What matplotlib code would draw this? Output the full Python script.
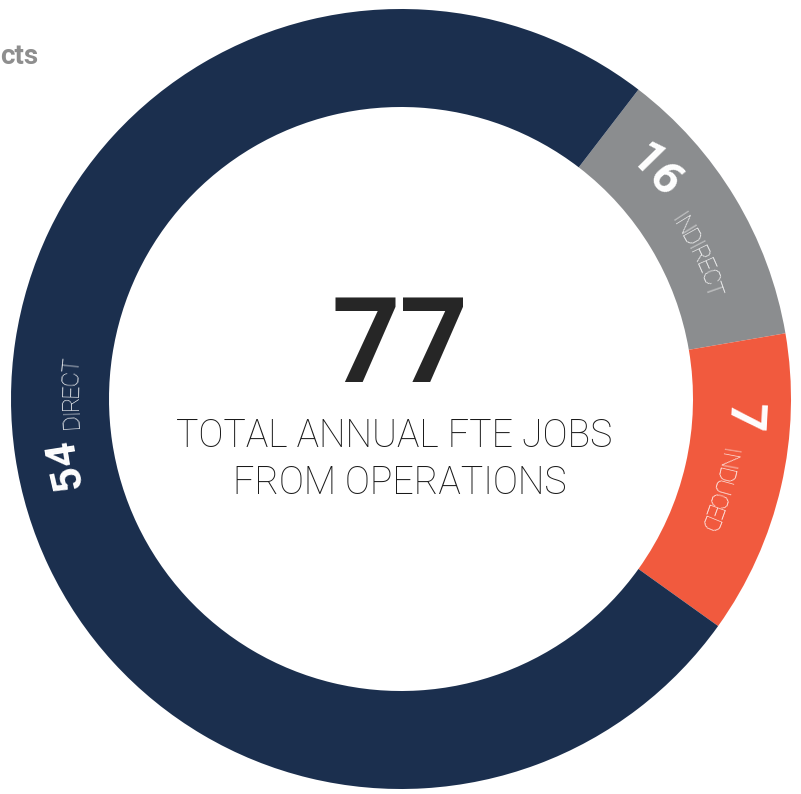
import numpy as np
import matplotlib
matplotlib.use('Agg')
import matplotlib.pyplot as plt
from matplotlib.font_manager import FontProperties
from matplotlib.textpath import TextToPath

# values shown on the ring
labels = ['INDIRECT', 'INDUCED', 'DIRECT']
jobs = [16, 7, 54]
# arc sizes in degrees as drawn in the picture (not proportional to jobs)
arc_deg = [42.8, 45.3, 271.9]
colors = ['#8b8d8f', '#f15a3e', '#1b2f4e']

total = 77
center_lines = ['TOTAL ANNUAL FTE JOBS', 'FROM OPERATIONS']

W, H = 801, 794
fig = plt.figure(figsize=(W / 100, H / 100), dpi=100)
ax = fig.add_axes([0, 0, 1, 1])

cx, cy = 401, H - 399
R, ring = 390, 98

ax.pie(arc_deg, colors=colors, startangle=52.5, counterclock=False,
       center=(cx, cy), radius=R,
       wedgeprops=dict(width=ring, linewidth=0))
ax.set_xlim(0, W)
ax.set_ylim(0, H)
ax.set_aspect('equal')
ax.axis('off')

t2p = TextToPath()


def ring_text(s, theta, r, size, weight, track=1.0):
    # theta is the middle of the text, clockwise from top; letters follow the arc
    prop = FontProperties(family='Roboto', weight=weight, size=size)
    widths = [t2p.get_text_width_height_descent(c, prop, ismath=False)[0] * 100 / 72 * track
              for c in s]
    span = np.rad2deg(sum(widths) / r)
    a = theta - span / 2
    for c, w in zip(s, widths):
        mid = a + np.rad2deg(w / 2 / r)
        t = np.deg2rad(mid)
        ax.text(cx + r * np.sin(t), cy + r * np.cos(t), c, rotation=-mid,
                rotation_mode='anchor', ha='center', va='center',
                color='white', fontproperties=prop)
        a += np.rad2deg(w / r)


# (number angle, label angle) for each slice
spots = [(48, 64), (93, 106), (259, 271)]
num_size = [34, 36, 31]
for lab, n, (tn, tl), fs in zip(labels, jobs, spots, num_size):
    ring_text(str(n), tn, 342, fs, 'bold')
    ring_text(lab, tl, 330, 17, 'light', track=0.86)

ax.text(400, H - 350, str(total), ha='center', va='center',
        fontsize=86, fontweight='bold', color='#262626', family='Roboto')
ax.text(394, H - 436, center_lines[0], ha='center', va='center',
        fontsize=27, fontweight='light', color='#1a1a1a', family='Roboto')
ax.text(400, H - 483, center_lines[1], ha='center', va='center',
        fontsize=27, fontweight='light', color='#1a1a1a', family='Roboto')

ax.text(38, H - 57, 'cts', ha='right', va='center', fontsize=20,
        fontweight='bold', color='#8e8e8e', family='Roboto')

fig.savefig('out.png', dpi=100, facecolor='white')
